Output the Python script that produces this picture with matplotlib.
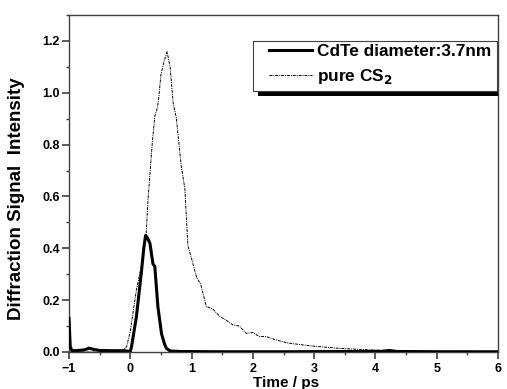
import numpy as np
import matplotlib
matplotlib.use('Agg')
import matplotlib.pyplot as plt
from matplotlib.patches import Rectangle

plt.rcParams['font.family'] = ['Liberation Sans', 'DejaVu Sans']
plt.rcParams['font.weight'] = 'bold'

# CdTe diameter 3.7nm (thick line)
cdte_t = [-1.0, -0.98, -0.95, -0.85, -0.75, -0.67, -0.6, -0.5, -0.3, -0.1, 0.0, 0.02,
          0.1, 0.18, 0.22, 0.25, 0.28, 0.32, 0.37, 0.40, 0.45, 0.51, 0.56, 0.59, 0.65,
          0.8, 1.5, 2.5, 3.5, 4.1, 4.22, 4.35, 5.0, 6.0]
cdte_y = [0.13, 0.02, 0.005, 0.006, 0.008, 0.015, 0.01, 0.006, 0.005, 0.005, 0.002, 0.02,
          0.137, 0.305, 0.40, 0.45, 0.44, 0.42, 0.34, 0.33, 0.176, 0.07, 0.03, 0.014, 0.004,
          0.002, 0.001, 0.001, 0.002, 0.002, 0.006, 0.002, 0.001, 0.001]

# pure CS2 (thin dash-dot line)
cs2_t = [-1.0, -0.5, -0.15, -0.06, 0.0, 0.1, 0.18, 0.26, 0.29, 0.36, 0.40, 0.43, 0.46,
         0.50, 0.55, 0.6, 0.65, 0.70, 0.75, 0.83, 0.89, 0.94, 1.0, 1.08, 1.15, 1.24,
         1.35, 1.46, 1.55, 1.67, 1.78, 1.89, 2.0, 2.1, 2.21, 2.4, 2.59, 2.97, 3.41,
         3.94, 4.5, 5.0, 6.0]
cs2_y = [0.0, 0.0, 0.0, 0.02, 0.08, 0.24, 0.33, 0.46, 0.59, 0.81, 0.91, 0.93, 0.97,
         1.07, 1.12, 1.158, 1.10, 0.96, 0.905, 0.72, 0.63, 0.41, 0.36, 0.29, 0.26, 0.176,
         0.165, 0.137, 0.125, 0.105, 0.10, 0.072, 0.075, 0.06, 0.06, 0.045, 0.034, 0.023,
         0.014, 0.008, 0.004, 0.003, 0.002]

W, H = 507, 389
fig = plt.figure(figsize=(W / 100, H / 100), dpi=100)
ax = fig.add_axes([69 / W, 1 - 352 / H, 429 / W, 337 / H])

l1, = ax.plot(cdte_t, cdte_y, color='black', lw=2.2, label='CdTe diameter:3.7nm', zorder=3)
l2, = ax.plot(cs2_t, cs2_y, color='black', lw=0.7, ls=(0, (3, 1, 1, 1)), label='pure CS$_\\mathbf{2}$')

ax.set_xlim(-1, 6)
ax.set_ylim(0, 1.3)
ax.set_xticks(np.arange(-1, 7, 1))
ax.set_xticks(np.arange(-1, 6.5, 0.5), minor=True)
ax.set_yticks(np.arange(0, 1.21, 0.2))
ax.set_yticks(np.arange(0, 1.31, 0.1), minor=True)
ax.set_yticklabels(['%.1f' % v for v in np.arange(0, 1.21, 0.2)])

for s in ax.spines.values():
    s.set_color('#404040')
    s.set_linewidth(1.0)
ax.tick_params(which='major', direction='out', length=4.7, width=1.2, color='#404040',
               labelsize=9, pad=2)
ax.tick_params(axis='x', which='major', pad=3)
ax.tick_params(which='minor', direction='out', length=2.5, width=1.0, color='#404040')
for lbl in ax.get_xticklabels() + ax.get_yticklabels():
    lbl.set_fontweight('bold')

ax.set_xlabel('Time / ps', fontsize=11, fontweight='bold')
ax.set_ylabel('Diffraction Signal  Intensity', fontsize=13.5, fontweight='bold')
ax.xaxis.set_label_coords(0.506, -0.072)
ax.yaxis.set_label_coords(-0.102, 0.455)

# legend drawn on the figure, with a hand-made frame and black shadow
leg = fig.legend(handles=[l1, l2], loc='upper right',
                 bbox_to_anchor=(491 / W, 1 - 44 / H), frameon=False,
                 prop={'weight': 'bold', 'size': 12.4}, handlelength=2.5,
                 handletextpad=0.3, borderpad=0.0, labelspacing=0.45, borderaxespad=0)
leg.set_zorder(3)

fig.canvas.draw()
bb = leg.get_window_extent()
x0, x1 = bb.x0 - 16, bb.x1 + 6
y0, y1 = bb.y0 - 5, bb.y1 + 3
shadow = Rectangle(((x0 + 5) / W, (y0 - 5) / H), (x1 - x0) / W, (y1 - y0) / H,
                   transform=fig.transFigure, facecolor='black', edgecolor='none', zorder=1)
frame = Rectangle((x0 / W, y0 / H), (x1 - x0) / W, (y1 - y0) / H,
                  transform=fig.transFigure, facecolor='white', edgecolor='#404040',
                  lw=0.8, zorder=2)
fig.add_artist(shadow)
fig.add_artist(frame)
shadow.set_clip_box(ax.bbox)

fig.savefig('out.png', dpi=100)
